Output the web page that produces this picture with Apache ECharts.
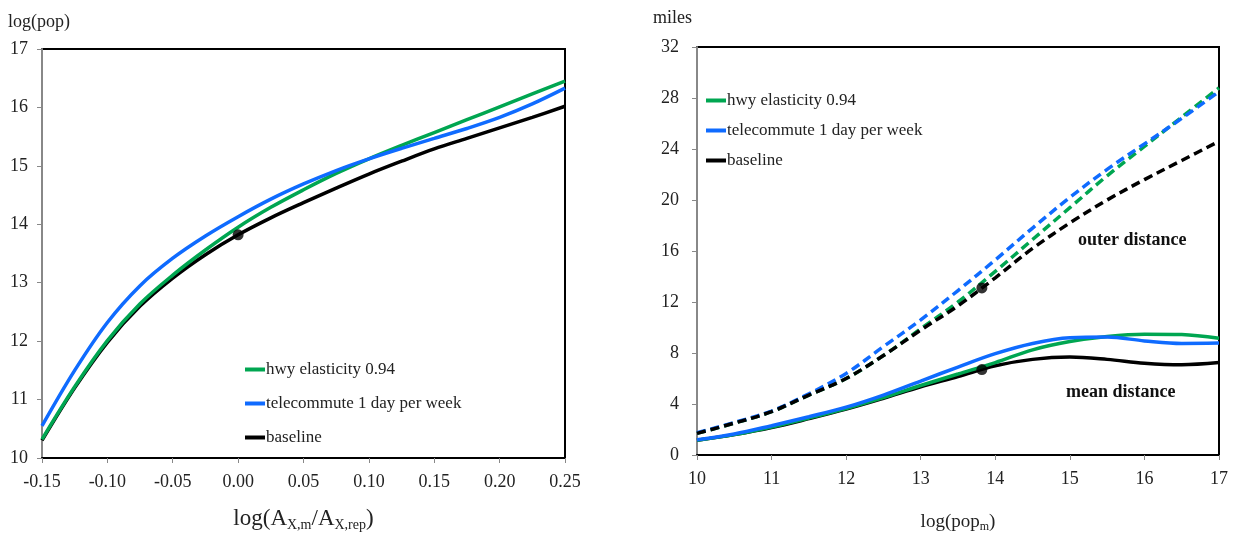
<!DOCTYPE html>
<html>
<head>
<meta charset="utf-8">
<script src="https://cdn.jsdelivr.net/npm/echarts@6/dist/echarts.min.js"></script>
<style>
html,body{margin:0;padding:0;background:#fff;}
#chart{width:1239px;height:538px;}
</style>
</head>
<body>
<div id="chart"></div>
<script>
// ---- Left panel: log(pop) vs log(A_X,m / A_X,rep)
const leftX = [-0.15,-0.125,-0.10,-0.075,-0.05,-0.025,0,0.025,0.05,0.075,0.10,0.125,0.15,0.175,0.20,0.225,0.25];
const leftHwy = [10.32,11.22,12.01,12.64,13.13,13.56,13.95,14.29,14.59,14.87,15.12,15.35,15.57,15.79,16.01,16.23,16.45];
const leftTele = [10.55,11.50,12.32,12.95,13.42,13.80,14.13,14.43,14.69,14.92,15.12,15.30,15.47,15.64,15.83,16.06,16.33];
const leftBase = [10.30,11.20,11.98,12.60,13.08,13.48,13.82,14.11,14.37,14.62,14.86,15.08,15.29,15.47,15.65,15.83,16.02];
const leftDot = [[0, 13.82]];
const leftXTicks = {min:-0.15, max:0.25, interval:0.05};
const leftYTicks = {min:10, max:17, interval:1};

// ---- Right panel: miles vs log(pop_m)
const rightX = [10,10.5,11,11.5,12,12.5,13,13.5,14,14.5,15,15.5,16,16.5,17];
const outerHwy  = [1.7,2.5,3.4,4.7,6.0,7.8,9.9,12.0,14.4,16.9,19.4,21.9,24.2,26.5,28.8];
const outerTele = [1.75,2.55,3.45,4.8,6.4,8.5,10.6,12.9,15.3,17.8,20.2,22.4,24.4,26.4,28.5];
const outerBase = [1.7,2.5,3.4,4.7,6.0,7.8,9.8,11.7,13.9,16.2,18.2,20.0,21.6,23.1,24.6];
const meanHwy  = [1.15,1.6,2.2,2.9,3.65,4.5,5.45,6.35,7.25,8.25,8.9,9.3,9.48,9.45,9.15];
const meanTele = [1.2,1.65,2.3,3.0,3.75,4.7,5.8,6.9,7.95,8.75,9.2,9.25,8.95,8.75,8.78];
const meanBase = [1.15,1.6,2.15,2.85,3.6,4.45,5.35,6.15,7.0,7.5,7.68,7.5,7.2,7.08,7.25];
const rightDots = [[13.82, 13.1],[13.82, 6.7]];
const rightXTicks = {min:10, max:17, interval:1};
const rightYTicks = {min:0, max:32, interval:4};

const names = ['hwy elasticity 0.94','telecommute 1 day per week','baseline'];
const GREEN = '#00a651', BLUE = '#0f6bff', BLACK = '#000000';
const FONT = 'Liberation Serif';

function pairs(xs, ys){ return xs.map((x,i)=>[x, ys[i]]); }

function lineSeries(name, xi, yi, xs, ys, color, dashed){
  return {
    type:'line', name:name, xAxisIndex:xi, yAxisIndex:yi,
    data:pairs(xs, ys), smooth:0.35, showSymbol:false, symbol:'none',
    lineStyle:{color:color, width:3.5, type: dashed ? [9,5] : 'solid'},
    itemStyle:{color:color}, z: dashed ? 3 : 2, silent:true
  };
}

const axisLabel = {color:'#222', fontFamily:FONT, fontSize:18};

const chart = echarts.init(document.getElementById('chart'), null, {renderer:'canvas'});
chart.setOption({
  animation:false,
  backgroundColor:'#fff',
  grid:[
    {left:42, right:674, top:49, bottom:80, show:true, borderColor:'#000', borderWidth:2},
    {left:697, right:20, top:47, bottom:80, show:true, borderColor:'#000', borderWidth:2}
  ],
  xAxis:[
    {type:'value', gridIndex:0, min:leftXTicks.min, max:leftXTicks.max, interval:leftXTicks.interval,
     axisLine:{onZero:false, lineStyle:{color:'#000', width:2}}, axisTick:{show:true, length:5, lineStyle:{color:'#888'}},
     splitLine:{show:false},
     axisLabel:Object.assign({}, axisLabel, {margin:15, formatter:v=>v.toFixed(2)}),
     name:'{a|log(A}{s|X,m}{a|/A}{s|X,rep}{a|)}', nameLocation:'middle', nameGap:48,
     nameTextStyle:{rich:{a:{fontFamily:FONT, fontSize:23, color:'#222'}, s:{fontFamily:FONT, fontSize:14, color:'#222', verticalAlign:'bottom', padding:[12,0,0,0]}}}},
    {type:'value', gridIndex:1, min:rightXTicks.min, max:rightXTicks.max, interval:rightXTicks.interval,
     axisLine:{onZero:false, lineStyle:{color:'#000', width:2}}, axisTick:{show:true, length:5, lineStyle:{color:'#888'}},
     splitLine:{show:false},
     axisLabel:Object.assign({}, axisLabel, {margin:15}),
     name:'{a|log(pop}{s|m}{a|)}', nameLocation:'middle', nameGap:56,
     nameTextStyle:{rich:{a:{fontFamily:FONT, fontSize:19, color:'#222'}, s:{fontFamily:FONT, fontSize:12, color:'#222', verticalAlign:'bottom', padding:[10,0,0,0]}}}}
  ],
  yAxis:[
    {type:'value', gridIndex:0, min:leftYTicks.min, max:leftYTicks.max, interval:leftYTicks.interval,
     axisLine:{show:true, onZero:false, lineStyle:{color:'#888', width:2}}, axisTick:{show:true, length:5, lineStyle:{color:'#888'}},
     splitLine:{show:false},
     axisLabel:Object.assign({}, axisLabel, {margin:14}),
     name:'log(pop)', nameLocation:'end', nameGap:18,
     nameTextStyle:{fontFamily:FONT, fontSize:18, color:'#222', align:'left', padding:[0,0,0,-34]}},
    {type:'value', gridIndex:1, min:rightYTicks.min, max:rightYTicks.max, interval:rightYTicks.interval,
     axisLine:{show:true, onZero:false, lineStyle:{color:'#888', width:2}}, axisTick:{show:true, length:5, lineStyle:{color:'#888'}},
     splitLine:{show:false},
     axisLabel:Object.assign({}, axisLabel, {margin:18}),
     name:'miles', nameLocation:'end', nameGap:20,
     nameTextStyle:{fontFamily:FONT, fontSize:18, color:'#222', align:'left', padding:[0,0,0,-44]}}
  ],
  legend:[
    {left:240, top:356, orient:'vertical', itemGap:17, itemWidth:20, itemHeight:4, icon:'rect',
     data:names, selectedMode:false, textStyle:{fontFamily:FONT, fontSize:17, color:'#222', padding:[0,0,0,-4]}},
    {left:701, top:87, orient:'vertical', itemGap:13, itemWidth:20, itemHeight:4, icon:'rect',
     data:names, selectedMode:false, textStyle:{fontFamily:FONT, fontSize:17, color:'#222', padding:[0,0,0,-4]}}
  ],
  graphic:[
    {type:'text', left:1078, top:231, style:{text:'outer distance', font:'bold 18px "Liberation Serif"', fill:'#111'}},
    {type:'text', left:1066, top:383, style:{text:'mean distance', font:'bold 18px "Liberation Serif"', fill:'#111'}}
  ],
  series:[
    lineSeries('baseline',0,0,leftX,leftBase,BLACK,false),
    lineSeries('hwy elasticity 0.94',0,0,leftX,leftHwy,GREEN,false),
    lineSeries('telecommute 1 day per week',0,0,leftX,leftTele,BLUE,false),
    {type:'scatter', xAxisIndex:0, yAxisIndex:0, data:leftDot, symbolSize:11, itemStyle:{color:BLACK}, z:5, silent:true},

    lineSeries('baseline',1,1,rightX,meanBase,BLACK,false),
    lineSeries('hwy elasticity 0.94',1,1,rightX,meanHwy,GREEN,false),
    lineSeries('telecommute 1 day per week',1,1,rightX,meanTele,BLUE,false),
    lineSeries('hwy outer',1,1,rightX,outerHwy,GREEN,true),
    lineSeries('telecommute outer',1,1,rightX,outerTele,BLUE,true),
    lineSeries('baseline outer',1,1,rightX,outerBase,BLACK,true),
    {type:'scatter', xAxisIndex:1, yAxisIndex:1, data:rightDots, symbolSize:11, itemStyle:{color:BLACK}, z:5, silent:true}
  ]
});
</script>
</body>
</html>
